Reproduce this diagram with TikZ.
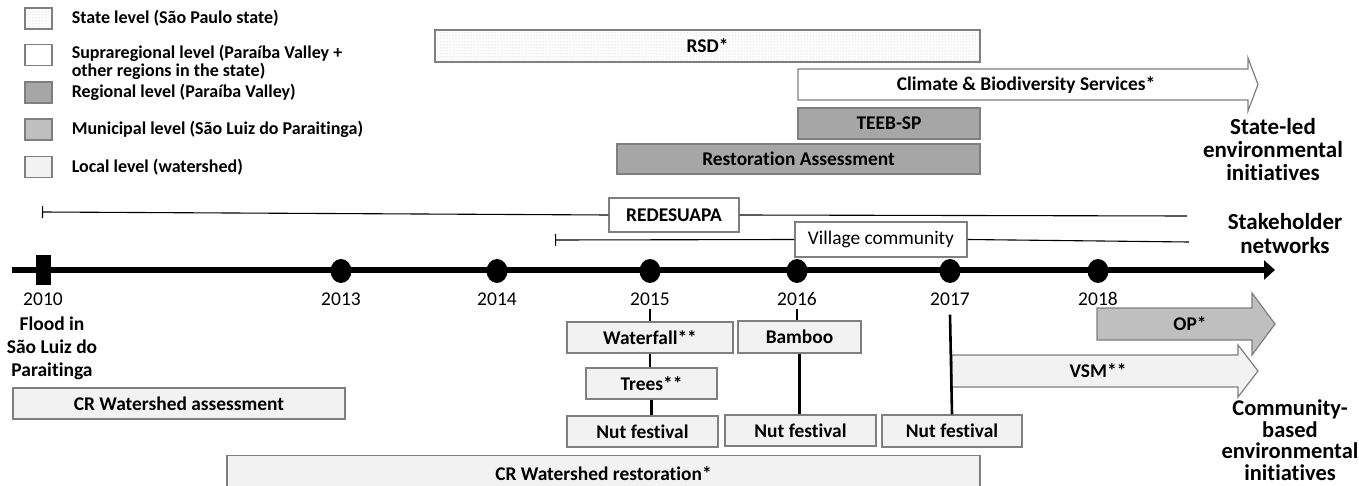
\documentclass[tikz,border=0pt]{standalone}
\usepackage{fontspec}
\setmainfont{Carlito}[Ligatures=NoCommon]
\usetikzlibrary{arrows.meta,patterns,positioning,shapes.geometric}
\definecolor{regional}{HTML}{A6A6A6}
\definecolor{municipal}{HTML}{BFBFBF}
\definecolor{localfill}{HTML}{F2F2F2}
\definecolor{frame}{HTML}{7F7F7F}
\begin{document}
\begin{tikzpicture}
[x=1pt,y=-1pt,
every node/.style={font=\fontsize{19.4}{19.4}\selectfont\bfseries},
lvlbox/.style={draw=frame,line width=1.2pt,inner sep=0pt},
statefill/.style={pattern=dots,pattern color=gray!60},
legbox/.style={lvlbox,minimum width=27,minimum height=21},
legtext/.style={right=16pt of #1,align=left,inner sep=3pt,font=\fontsize{18}{18}\selectfont\bfseries},
yeardot/.style={ellipse,fill=black,inner sep=0pt,minimum width=21,minimum height=24},
yearlbl/.style={anchor=base,font=\fontsize{19.5}{19.5}\selectfont\mdseries},
netline/.style={line width=1.1pt},
stemline/.style={line width=2.6pt},
sidelbl/.style={align=center,font=\fontsize{23}{23}\selectfont\bfseries}]
\useasboundingbox (0,0) rectangle (1359,486);

\node[legbox,statefill] (leg1) at (38.5,18.5) {};
\node[legbox,fill=white] (leg2) at (38.5,55) {};
\node[legbox,fill=regional] (leg3) at (38.5,92.5) {};
\node[legbox,fill=municipal] (leg4) at (38.5,129.5) {};
\node[legbox,fill=localfill] (leg5) at (38.5,167) {};
\node[legtext=leg1] {State level (São Paulo state)};
\node[legtext=leg2,yshift=-7pt] {Supraregional level (Paraíba Valley +\\other regions in the state)};
\node[legtext=leg3] {Regional level (Paraíba Valley)};
\node[legtext=leg4] {Municipal level (São Luiz do Paraitinga)};
\node[legtext=leg5] {Local level (watershed)};

\node[lvlbox,statefill,minimum width=545,minimum height=32] (rsd) at (707.5,46) {RSD*};
\filldraw[draw=frame,line width=1.2pt,fill=white] (798,69) -- (1248,69) -- (1248,58) -- (1258,84.5) -- (1248,111) -- (1248,100) -- (798,100) -- cycle;
\node (climate) at (1026,85) {Climate \& Biodiversity Services*};
\node[lvlbox,fill=regional,minimum width=182,minimum height=31] (teeb) at (889,123.5) {TEEB-SP};
\node[lvlbox,fill=regional,minimum width=363,minimum height=30] (restassess) at (798.5,159) {Restoration Assessment};
\node[sidelbl] (stateled) at (1273,150) {State-led\\environmental\\initiatives};

\coordinate (rstart) at (42,212);
\coordinate (rend) at (1187,216);
\coordinate (vstart) at (555,240);
\coordinate (vend) at (1189,242);
\node[lvlbox,fill=white,minimum width=130,minimum height=34] (redesuapa) at (674,215) {REDESUAPA};
\node[lvlbox,fill=white,minimum width=172,minimum height=35,font=\fontsize{19.4}{19.4}\selectfont\mdseries] (village) at (881,239.5) {Village community};
\draw[netline,{Bar[width=12pt,line width=1.1pt]}-] (rstart) -- (redesuapa.west);
\draw[netline] (redesuapa.east) -- (rend);
\draw[netline,{Bar[width=12pt,line width=1.1pt]}-] (vstart) -- (village.west);
\draw[netline] (village.east) -- (vend);
\node[sidelbl,font=\fontsize{23}{24}\selectfont\bfseries] (stakeholder) at (1285,234) {Stakeholder\\networks};

\coordinate (tstart) at (12,270);
\coordinate (tend) at (1275,270);
\draw[line width=6.5pt,-{Triangle[length=11pt,width=19pt]}] (tstart) -- (tend);
\node[fill=black,inner sep=0pt,minimum width=15,minimum height=30] (d2010) at (43.5,270) {};
\node[yeardot] (d2013) at (341,271) {};
\node[yeardot] (d2014) at (497,271) {};
\node[yeardot] (d2015) at (650,271) {};
\node[yeardot] (d2016) at (797,271) {};
\node[yeardot] (d2017) at (950,271) {};
\node[yeardot] (d2018) at (1098,271) {};
\node[yearlbl] (l2010) at (43,305) {2010};
\node[yearlbl] (l2013) at (341,305) {2013};
\node[yearlbl] (l2014) at (497,305) {2014};
\node[yearlbl] (l2015) at (650,305) {2015};
\node[yearlbl] (l2016) at (797,305) {2016};
\node[yearlbl] (l2017) at (950,305) {2017};
\node[yearlbl] (l2018) at (1098,305) {2018};

\node[align=center,font=\fontsize{19.5}{23}\selectfont\bfseries] (flood) at (52,348) {Flood in\\São Luiz do\\Paraitinga};
\node[lvlbox,fill=localfill,minimum width=332,minimum height=31] (crassess) at (179,403.5) {CR Watershed assessment};
\node[lvlbox,fill=localfill,minimum width=753,minimum height=36,anchor=north] (crrestore) at (603.5,455) {CR Watershed restoration*};

\node[lvlbox,fill=localfill,minimum width=166,minimum height=31] (waterfall) at (650,337.5) {Waterfall**};
\node[lvlbox,fill=localfill,minimum width=131,minimum height=31] (trees) at (651.5,383.5) {Trees**};
\node[lvlbox,fill=localfill,minimum width=151,minimum height=31] (nut1) at (642.5,431.5) {Nut festival};
\node[lvlbox,fill=localfill,minimum width=123,minimum height=32] (bamboo) at (799.5,337) {Bamboo};
\node[lvlbox,fill=localfill,minimum width=151,minimum height=31] (nut2) at (800.5,430.5) {Nut festival};
\node[lvlbox,fill=localfill,minimum width=140,minimum height=32] (nut3) at (952,431) {Nut festival};

\filldraw[draw=frame,line width=1.2pt,fill=municipal] (1097,308) -- (1252,308) -- (1252,293) -- (1275,324) -- (1252,355) -- (1252,340) -- (1097,340) -- cycle;
\node (op) at (1190,324) {OP*};
\filldraw[draw=frame,line width=1.2pt,fill=localfill] (952,355) -- (1238,355) -- (1238,345) -- (1258,371) -- (1238,397) -- (1238,387) -- (952,387) -- cycle;
\node (vsm) at (1098,371) {VSM**};

\draw[stemline] (l2015.south) -- (l2015.south |- waterfall.north);
\draw[stemline] (waterfall.south) -- (waterfall.south |- trees.north);
\draw[stemline] (trees.south) -- (trees.south |- nut1.north);
\draw[stemline] (l2016.south) -- (l2016.south |- bamboo.north);
\draw[stemline] (bamboo.south) -- (bamboo.south |- nut2.north);
\draw[stemline] ([yshift=-6pt]l2017.south) -- (nut3.north);

\node[sidelbl,inner sep=0pt,font=\fontsize{22.5}{21.5}\selectfont\bfseries] (community) at (1290,440) {Community-\\based\\environmental\\initiatives};
\end{tikzpicture}
\end{document}
